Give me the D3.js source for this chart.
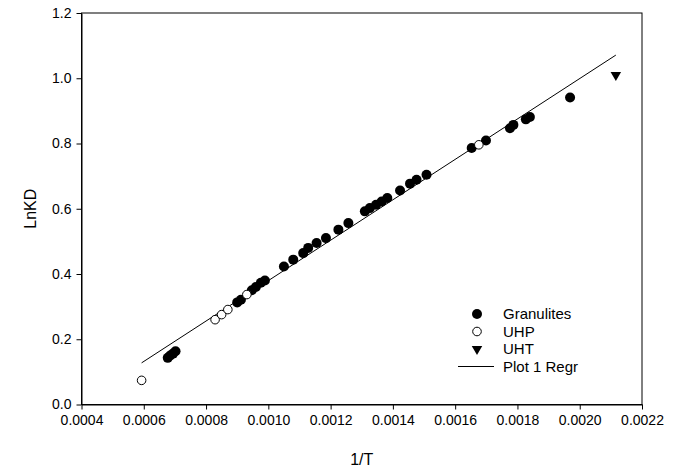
<!DOCTYPE html>
<html>
<head>
<meta charset="utf-8">
<script src="https://cdn.jsdelivr.net/npm/d3@7"></script>
<style>
  html, body { margin: 0; padding: 0; background: #fff; }
  svg { display: block; font-family: "Liberation Sans", Arial, sans-serif; }
</style>
</head>
<body>
<svg id="chart" width="683" height="471"></svg>
<script>
// ---- data ----
const granulitesX = [0.000677, 0.000685, 0.000694, 0.000702, 0.000900, 0.000912, 0.000947, 0.000960, 0.000976, 0.000989,
  0.001050, 0.001080, 0.001112, 0.001128, 0.001155, 0.001185, 0.001225, 0.001257, 0.001310, 0.001326,
  0.001346, 0.001364, 0.001382, 0.001423, 0.001455, 0.001476, 0.001508, 0.001653, 0.001699, 0.001776,
  0.001787, 0.001827, 0.001840, 0.001969];
const granulitesY = [0.143, 0.150, 0.156, 0.163, 0.313, 0.321, 0.350, 0.360, 0.373, 0.380,
  0.423, 0.444, 0.464, 0.480, 0.495, 0.510, 0.536, 0.556, 0.592, 0.602,
  0.612, 0.622, 0.633, 0.656, 0.677, 0.689, 0.704, 0.786, 0.809, 0.847,
  0.857, 0.874, 0.881, 0.941];
const uhpX = [0.000593, 0.000829, 0.000850, 0.000870, 0.000931, 0.001676];
const uhpY = [0.074, 0.260, 0.2755, 0.291, 0.337, 0.796];
const uhtX = [0.002116];
const uhtY = [1.010];
const regrSlope = 619.4;
const regrIntercept = -0.2397;
const xTicks = [0.0004, 0.0006, 0.0008, 0.0010, 0.0012, 0.0014, 0.0016, 0.0018, 0.0020, 0.0022];
const yTicks = [0.0, 0.2, 0.4, 0.6, 0.8, 1.0, 1.2];
const legendLabels = ["Granulites", "UHP", "UHT", "Plot 1 Regr"];
const xTitle = "1/T";
const yTitle = "LnKD";

// ---- layout ----
const svg = d3.select("#chart");
const mLeft = 81.5, mRight = 642, mTop = 13, mBottom = 404.5;
const x = d3.scaleLinear().domain([0.0004, 0.0022]).range([mLeft, mRight]);
const y = d3.scaleLinear().domain([0, 1.2]).range([mBottom, mTop]);

// frame
svg.append("rect").attr("x", mLeft).attr("y", mTop)
  .attr("width", mRight - mLeft).attr("height", mBottom - mTop)
  .attr("fill", "none").attr("stroke", "#000").attr("stroke-width", 1);

// axes
const xAxis = d3.axisBottom(x).tickValues(xTicks).tickFormat(d3.format(".4f"))
  .tickSizeInner(5).tickSizeOuter(0).tickPadding(6);
const gx = svg.append("g").attr("transform", `translate(0,${mBottom})`).call(xAxis);
const yAxis = d3.axisLeft(y).tickValues(yTicks).tickFormat(d3.format(".1f"))
  .tickSizeInner(5).tickSizeOuter(0).tickPadding(5);
const gy = svg.append("g").attr("transform", `translate(${mLeft},0)`).call(yAxis);
[gx, gy].forEach(g => {
  g.select(".domain").attr("stroke", "#000");
  g.selectAll(".tick line").attr("stroke", "#000");
  g.selectAll("text").attr("font-size", 14).attr("fill", "#000")
    .attr("font-family", "Liberation Sans, Arial, sans-serif");
});

// titles
svg.append("text").attr("x", (mLeft + mRight) / 2).attr("y", 465)
  .attr("text-anchor", "middle").attr("font-size", 16).text(xTitle);
svg.append("text").attr("transform", `translate(36,${(mTop + mBottom) / 2}) rotate(-90)`)
  .attr("text-anchor", "middle").attr("font-size", 16).text(yTitle);

// regression line
const allX = granulitesX.concat(uhpX, uhtX);
const xMin = d3.min(allX), xMax = d3.max(allX);
svg.append("line")
  .attr("x1", x(xMin)).attr("y1", y(regrSlope * xMin + regrIntercept))
  .attr("x2", x(xMax)).attr("y2", y(regrSlope * xMax + regrIntercept))
  .attr("stroke", "#000").attr("stroke-width", 1);

// points
const gran = granulitesX.map((v, i) => [v, granulitesY[i]]);
const uhp = uhpX.map((v, i) => [v, uhpY[i]]);
const uht = uhtX.map((v, i) => [v, uhtY[i]]);
svg.append("g").selectAll("circle").data(gran).join("circle")
  .attr("cx", d => x(d[0])).attr("cy", d => y(d[1])).attr("r", 5).attr("fill", "#000");
svg.append("g").selectAll("circle").data(uhp).join("circle")
  .attr("cx", d => x(d[0])).attr("cy", d => y(d[1])).attr("r", 4.3)
  .attr("fill", "#fff").attr("stroke", "#000").attr("stroke-width", 1);
const tri = d3.symbol().type(d3.symbolTriangle).size(48);
svg.append("g").selectAll("path").data(uht).join("path")
  .attr("d", tri)
  .attr("transform", d => `translate(${x(d[0])},${y(d[1])}) rotate(180)`)
  .attr("fill", "#000");

// legend
const lx = 477, ly0 = 314, dy = 17.5, tx = 503;
const lg = svg.append("g").attr("font-size", 15);
lg.append("circle").attr("cx", lx).attr("cy", ly0).attr("r", 5).attr("fill", "#000");
lg.append("circle").attr("cx", lx).attr("cy", ly0 + dy).attr("r", 4.3)
  .attr("fill", "#fff").attr("stroke", "#000");
lg.append("path").attr("d", tri).attr("transform", `translate(${lx},${ly0 + 2 * dy}) rotate(180)`).attr("fill", "#000");
lg.append("line").attr("x1", 458).attr("x2", 494).attr("y1", ly0 + 3 * dy).attr("y2", ly0 + 3 * dy)
  .attr("stroke", "#000");
legendLabels.forEach((t, i) => {
  lg.append("text").attr("x", tx).attr("y", ly0 + i * dy).attr("dy", "0.35em").text(t);
});
</script>
</body>
</html>
